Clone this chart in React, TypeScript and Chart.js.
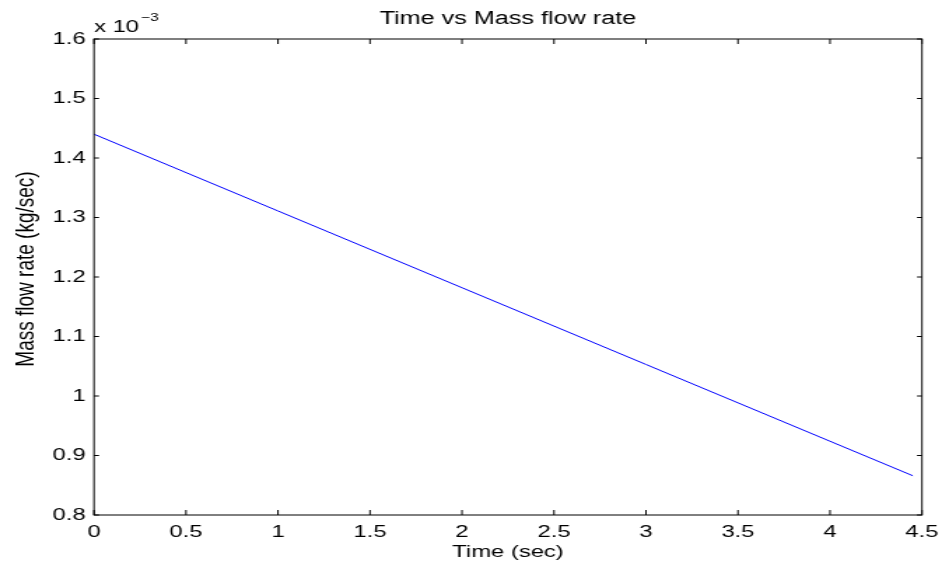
import React, { useEffect, useRef } from "react";
import { Chart, registerables } from "chart.js";

Chart.register(...registerables);

// Data (mass flow rate in units of 1e-3 kg/sec)
const timeValues = [0, 1, 2, 3, 4, 4.45];
const massFlowValues = [1.44, 1.311, 1.182, 1.053, 0.924, 0.866];
const xTickValues = [0, 0.5, 1, 1.5, 2, 2.5, 3, 3.5, 4, 4.5];
const yTickValues = [0.8, 0.9, 1.0, 1.1, 1.2, 1.3, 1.4, 1.5, 1.6];
const titleText = "Time vs Mass flow rate";
const xLabel = "Time (sec)";
const yLabel = "Mass flow rate (kg/sec)";
const exponentBase = "x 10";
const exponentPower = "\u22123";

// The reference image is horizontally stretched; emulate by drawing narrower and stretching via CSS.
const PAGE_W = 949;
const PAGE_H = 572;
const CANVAS_W = 678;
const S = PAGE_W / CANVAS_W;

const FONT = "'Liberation Sans', Arial, Helvetica, sans-serif";

const fmt = (v: number) => String(Math.round(v * 100) / 100);

const decorPlugin = {
  id: "matlabDecor",
  afterDraw(chart: any) {
    const ctx = chart.ctx as CanvasRenderingContext2D;
    const { left, right, top, bottom } = chart.chartArea;
    const xs = chart.scales.x;
    const ys = chart.scales.y;
    ctx.save();
    ctx.strokeStyle = "#000";
    ctx.lineWidth = 1;
    // frame
    ctx.strokeRect(left, top, right - left, bottom - top);
    // inward ticks
    ctx.beginPath();
    xTickValues.forEach((v) => {
      const px = xs.getPixelForValue(v);
      ctx.moveTo(px, bottom);
      ctx.lineTo(px, bottom - 5);
      ctx.moveTo(px, top);
      ctx.lineTo(px, top + 5);
    });
    const yTickLen = 5 / S;
    yTickValues.forEach((v) => {
      const py = ys.getPixelForValue(v);
      ctx.moveTo(left, py);
      ctx.lineTo(left + yTickLen, py);
      ctx.moveTo(right, py);
      ctx.lineTo(right - yTickLen, py);
    });
    ctx.stroke();

    ctx.fillStyle = "#000";
    // title
    ctx.font = `18px ${FONT}`;
    ctx.textAlign = "center";
    ctx.textBaseline = "alphabetic";
    ctx.fillText(titleText, (left + right) / 2, 23.5);

    // exponent label
    ctx.textAlign = "left";
    ctx.font = `17px ${FONT}`;
    ctx.fillText(exponentBase, left, 32);
    const w = ctx.measureText(exponentBase).width;
    ctx.font = `11px ${FONT}`;
    ctx.fillText(exponentPower, left + w + 1.5, 20.8);

    // y axis label
    ctx.save();
    ctx.translate(26 / S, 269);
    ctx.rotate(-Math.PI / 2);
    ctx.font = `19px ${FONT}`;
    ctx.textAlign = "center";
    ctx.textBaseline = "middle";
    ctx.fillText(yLabel, 0, 0);
    ctx.restore();

    ctx.restore();
  },
};

export default function App() {
  const canvasRef = useRef<HTMLCanvasElement | null>(null);

  useEffect(() => {
    const canvas = canvasRef.current;
    if (!canvas) return;
    Chart.defaults.color = "#000";
    const chart = new Chart(canvas, {
      type: "line",
      data: {
        datasets: [
          {
            data: timeValues.map((t, i) => ({ x: t, y: massFlowValues[i] })),
            borderColor: "#0000ff",
            borderWidth: 1,
            pointRadius: 0,
            fill: false,
            tension: 0,
          },
        ],
      },
      plugins: [decorPlugin],
      options: {
        animation: false,
        responsive: false,
        devicePixelRatio: 1,
        layout: {
          padding: { top: 39, right: CANVAS_W - 924 / S, left: 0, bottom: 0 },
        },
        plugins: {
          legend: { display: false },
          tooltip: { enabled: false },
          title: { display: false },
        },
        scales: {
          x: {
            type: "linear",
            min: 0,
            max: 4.5,
            grid: { display: false, drawTicks: false },
            border: { display: false },
            afterFit: (scale: any) => {
              scale.height = PAGE_H - 515;
            },
            ticks: {
              stepSize: 0.5,
              padding: 7.5,
              autoSkip: false,
              maxRotation: 0,
              color: "#000",
              font: { family: FONT, size: 17 },
              callback: (v: any) => fmt(Number(v)),
            },
            title: {
              display: true,
              text: xLabel,
              color: "#000",
              font: { family: FONT, size: 17 },
              padding: { top: 0, bottom: 9 },
            },
          },
          y: {
            type: "linear",
            min: 0.8,
            max: 1.6,
            grid: { display: false, drawTicks: false },
            border: { display: false },
            afterFit: (scale: any) => {
              scale.width = 94 / S;
            },
            ticks: {
              stepSize: 0.1,
              padding: 6,
              autoSkip: false,
              color: "#000",
              font: { family: FONT, size: 17 },
              callback: (v: any) => fmt(Number(v)),
            },
          },
        },
      },
    });
    return () => chart.destroy();
  }, []);

  return (
    <div style={{ position: "fixed", left: 0, top: 0, width: PAGE_W, height: PAGE_H, background: "#fff" }}>
      <canvas
        ref={canvasRef}
        width={CANVAS_W}
        height={PAGE_H}
        style={{ width: `${PAGE_W}px`, height: `${PAGE_H}px`, display: "block" }}
      />
    </div>
  );
}
